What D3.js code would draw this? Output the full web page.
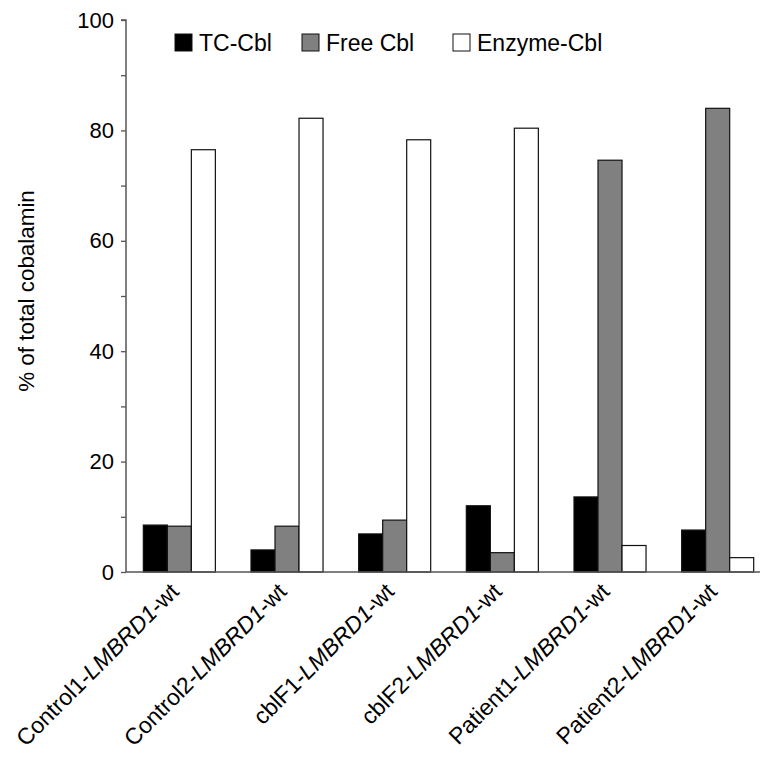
<!DOCTYPE html>
<html><head><meta charset="utf-8">
<script src="https://cdn.jsdelivr.net/npm/d3@7"></script>
<style>body{margin:0;background:#fff;} text{font-family:"Liberation Sans",Arial,sans-serif;}</style>
</head><body>
<svg id="c" width="763" height="758"></svg>
<script>
const categories = ["Control1", "Control2", "cblF1", "cblF2", "Patient1", "Patient2"];
const seriesNames = ["TC-Cbl", "Free Cbl", "Enzyme-Cbl"];
const tcCbl = [8.5, 4.0, 6.9, 12.0, 13.6, 7.6];
const freeCbl = [8.3, 8.3, 9.4, 3.5, 74.6, 84.0];
const enzymeCbl = [76.5, 82.2, 78.3, 80.4, 4.8, 2.6];
const yTicks = [0, 10, 20, 30, 40, 50, 60, 70, 80, 90, 100];
const yTickLabels = [0, 20, 40, 60, 80, 100];
const colors = ["#000000", "#808080", "#ffffff"];
const seriesValues = [tcCbl, freeCbl, enzymeCbl];

const svg = d3.select("#c");
const x0 = 126, yTop = 20, yBase = 572;
const y = d3.scaleLinear().domain([0, 100]).range([yBase, yTop]);
const x = d3.scaleBand().domain(categories).range([x0, 772]).padding(0);
const step = x.step();
const xs = d3.scaleBand().domain(seriesNames).range([step*0.161, step*0.83]).padding(0);

// bars
categories.forEach((c, i) => {
  seriesNames.forEach((s, j) => {
    const v = seriesValues[j][i];
    svg.append("rect")
      .attr("x", x(c) + xs(s))
      .attr("y", y(v))
      .attr("width", xs.bandwidth())
      .attr("height", yBase - y(v))
      .attr("fill", colors[j])
      .attr("stroke", "#111")
      .attr("stroke-width", 1.2);
  });
});

// y axis
const yAxis = d3.axisLeft(y).tickValues(yTicks).tickSize(5)
  .tickFormat(d => yTickLabels.includes(d) ? d : "");
const gy = svg.append("g").attr("transform", `translate(${x0},0)`).call(yAxis);
gy.select(".domain").attr("stroke", "#555").attr("stroke-width", 1.5).attr("d", `M-5,${yTop}H0V${yBase}`);
gy.selectAll(".tick line").attr("stroke", "#555").attr("stroke-width", 1.3);
gy.selectAll(".tick text").attr("font-size", 22).attr("fill", "#000").attr("x", -12)
  .attr("font-family", "Liberation Sans, Arial, sans-serif");

// x axis line
svg.append("line").attr("x1", x0).attr("x2", 760).attr("y1", yBase).attr("y2", yBase)
  .attr("stroke", "#555").attr("stroke-width", 1.5);

// x labels
categories.forEach(c => {
  const cx = x(c) + step*0.495;
  const t = svg.append("text")
    .attr("transform", `translate(${cx+1},${yBase+21}) rotate(-45)`)
    .attr("text-anchor", "end")
    .attr("font-size", 23)
    .attr("fill", "#000");
  t.append("tspan").text(c + "-");
  t.append("tspan").attr("font-style", "italic").text("LMBRD1");
  t.append("tspan").text("-wt");
});

// y title
svg.append("text")
  .attr("transform", `translate(34,291) rotate(-90)`)
  .attr("text-anchor", "middle")
  .attr("font-size", 22.4)
  .text("% of total cobalamin");

// legend
const legX = [175, 302, 453];
seriesNames.forEach((s, j) => {
  svg.append("rect").attr("x", legX[j]).attr("y", 34).attr("width", 17).attr("height", 17)
    .attr("fill", colors[j]).attr("stroke", "#111").attr("stroke-width", 1);
  svg.append("text").attr("x", legX[j] + 24).attr("y", 51).attr("font-size", 23).text(s);
});
</script>
</body></html>
